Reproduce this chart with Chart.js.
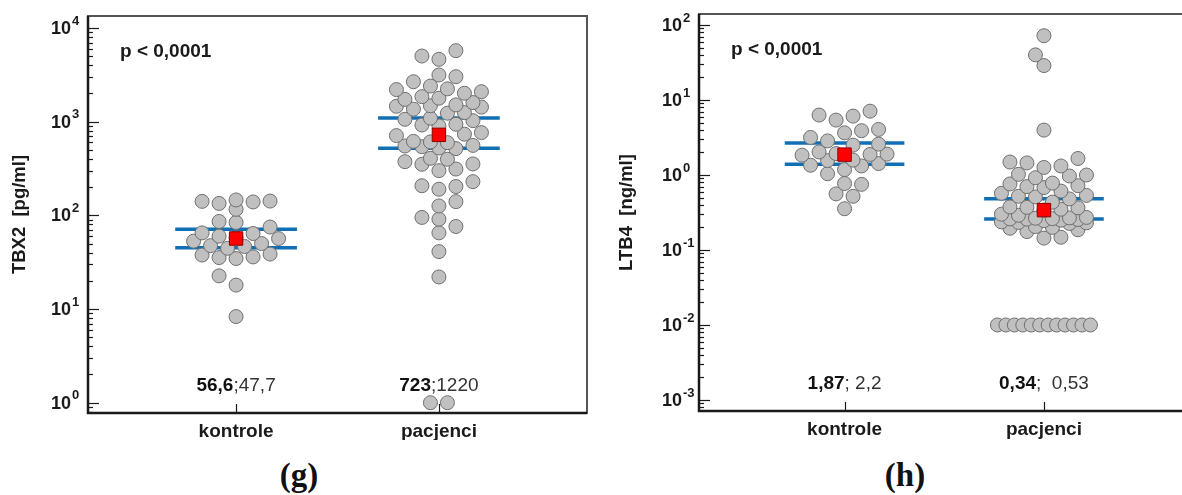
<!DOCTYPE html>
<html>
<head>
<meta charset="utf-8">
<script src="https://cdn.jsdelivr.net/npm/chart.js@4.4.0/dist/chart.umd.min.js"></script>
<style>
  html, body { margin: 0; padding: 0; background: #fff; overflow: hidden; width: 1182px; height: 495px; }
  .panel { position: absolute; top: 0; }
  .tag { position: absolute; top: 457px; width: 100px; text-align: center; line-height: 33px;
         font: bold 33px "Liberation Serif", "DejaVu Serif", serif; color: #111; }
</style>
</head>
<body>
<canvas id="chartG" class="panel" width="600" height="440" style="left:0"></canvas>
<canvas id="chartH" class="panel" width="600" height="440" style="left:600px"></canvas>
<div class="tag" style="left:249px">(g)</div>
<div class="tag" style="left:855px">(h)</div>
<script>
const categories = ['kontrole', 'pacjenci'];

// (g) TBX2 [pg/ml]
const tbx2Kontrole = [116, 134, 139, 141, 142, 146, 84, 86, 75, 60, 64, 65, 56.5, 57.5, 53, 46.5, 47.5, 50, 44.5,
  34.6, 35.4, 36, 37.7, 38.6, 22.6, 18, 8.3];
const tbx2Pacjenci = [5730, 5020, 4630, 3150, 3020, 2670, 2400, 2200, 2240, 2090, 2010, 1850, 1780, 1730,
  1600, 1510, 1460, 1480, 1430, 1360, 1250, 1230, 1090, 1060, 1025, 938, 922, 900, 764, 735, 710, 608, 616,
  597, 550, 558, 541, 516, 524, 406, 397, 374, 354, 351, 312, 300, 229, 207, 203, 190, 140, 126, 95, 91,
  76, 65, 41, 22, 1, 1];
const tbx2Center = [56.6, 723];
const tbx2Second = [47.7, 1220];
const tbx2Upper = [71, 1095];
const tbx2Lower = [45, 520];
const tbx2Exps = [0, 1, 2, 3, 4];

// (h) LTB4 [ng/ml]
const ltb4Kontrole = [7.1, 6.3, 6.1, 5.4, 4.05, 3.9, 3.65, 3.17, 2.85, 2.58, 2.5, 2.03, 1.93, 1.88, 1.9,
  1.84, 1.56, 1.58, 1.42, 1.35, 1.32, 1.18, 1.04, 0.77, 0.75, 0.56, 0.52, 0.355];
const ltb4Pacjenci = [72, 40, 28.8, 3.97, 1.66, 1.49, 1.45, 1.32, 1.26, 1.0, 1.02, 0.97, 0.92, 0.76, 0.78,
  0.72, 0.68, 0.7, 0.61, 0.57, 0.535, 0.52, 0.51, 0.48, 0.435, 0.365, 0.37, 0.375, 0.35, 0.34, 0.30, 0.29,
  0.268, 0.272, 0.255, 0.258, 0.26, 0.262, 0.265, 0.246, 0.25, 0.233, 0.237, 0.226, 0.23, 0.205, 0.2, 0.195,
  0.186, 0.176, 0.148, 0.144,
  0.01, 0.01, 0.01, 0.01, 0.01, 0.01, 0.01, 0.01, 0.01, 0.01, 0.01, 0.01];
const ltb4Center = [1.87, 0.34];
const ltb4Second = [2.2, 0.53];
const ltb4Upper = [2.68, 0.483];
const ltb4Lower = [1.39, 0.26];
const ltb4Exps = [-3, -2, -1, 0, 1, 2];

const FONT = '"Liberation Sans", Arial, sans-serif';
const comma = v => String(v).replace('.', ',');

// simple beeswarm, laid out in pixel space through the chart's own scales;
// identical values are set side by side in one centred row
function swarm(chart) {
  const xs = chart.scales.x, ys = chart.scales.y;
  const step = 8.5, minDist = 13, maxK = 5, maxHalf = 46.5;
  chart.data.datasets.forEach(ds => {
    if (!ds.raw) return;
    const cx = xs.getPixelForValue(ds.cat);
    const pts = ds.raw.map(v => ({ v, py: ys.getPixelForValue(v) })).sort((a, b) => b.py - a.py);
    const placed = [];
    let i = 0;
    while (i < pts.length) {
      let j = i;
      while (j + 1 < pts.length && pts[j + 1].v === pts[i].v) j++;
      const n = j - i + 1;
      if (n > 1) {
        const gap = Math.min(2 * step, 2 * maxHalf / (n - 1));
        for (let k = 0; k < n; k++) {
          pts[i + k].off = (k - (n - 1) / 2) * gap;
          placed.push(pts[i + k]);
        }
      } else {
        const p = pts[i];
        const s = placed.length % 2 ? 1 : -1;
        const cands = [0];
        for (let k = 1; k <= maxK; k++) cands.push(s * k * step, -s * k * step);
        let best = 0, bestD = -1;
        for (const off of cands) {
          let d = Infinity;
          for (const q of placed) d = Math.min(d, Math.hypot(q.off - off, q.py - p.py));
          if (d >= minDist) { best = off; break; }
          if (d > bestD) { bestD = d; best = off; }
        }
        p.off = best;
        placed.push(p);
      }
      i = j + 1;
    }
    ds.data = pts.map(p => ({ x: xs.getValueForPixel(cx + p.off), y: p.v }));
  });
  chart.update('none');
}

const framePlugin = {
  id: 'frame',
  afterDraw(chart, args, o) {
    const { ctx, chartArea: a, scales: { x, y } } = chart;
    ctx.save();
    ctx.strokeStyle = '#555';
    ctx.lineWidth = 2;
    ctx.strokeRect(a.left, a.top, a.right - a.left, a.bottom - a.top);
    ctx.strokeStyle = '#1a1a1a';
    ctx.lineWidth = 2.5;
    ctx.beginPath();
    ctx.moveTo(a.left, a.top); ctx.lineTo(a.left, a.bottom); ctx.lineTo(a.right, a.bottom);
    ctx.stroke();

    // log ticks, drawn inside the frame
    ctx.lineWidth = 1.2;
    const lo = Math.floor(Math.log10(y.min)), hi = Math.ceil(Math.log10(y.max));
    for (let e = lo; e <= hi; e++) {
      for (let m = 1; m <= 9; m++) {
        const v = m * Math.pow(10, e);
        if (v < y.min || v > y.max) continue;
        const py = Math.round(y.getPixelForValue(v)) + 0.5;
        ctx.beginPath();
        ctx.moveTo(a.left, py);
        ctx.lineTo(a.left + (m === 1 ? 11 : 5), py);
        ctx.stroke();
      }
    }
    // category ticks
    [1, 2].forEach(c => {
      const px = Math.round(x.getPixelForValue(c)) + 0.5;
      ctx.beginPath(); ctx.moveTo(px, a.bottom); ctx.lineTo(px, a.bottom - 9); ctx.stroke();
    });

    // tick labels 10^n
    ctx.fillStyle = '#1a1a1a';
    o.exps.forEach(e => {
      const py = y.getPixelForValue(Math.pow(10, e));
      const bx = a.left - 17;
      ctx.font = 'bold 18px ' + FONT;
      ctx.textAlign = 'right';
      ctx.textBaseline = 'middle';
      ctx.fillText('10', bx, py + 1);
      ctx.font = 'bold 13px ' + FONT;
      ctx.textAlign = 'left';
      ctx.fillText(String(e), bx + 1, py - 7);
    });

    // p value
    ctx.font = 'bold 19px ' + FONT;
    ctx.textAlign = 'left';
    ctx.textBaseline = 'alphabetic';
    ctx.fillText(o.pText, a.left + 32, a.top + 41);

    // center / second value under each group
    o.center.forEach((c, i) => {
      const b = comma(c), r = o.sep[i] + comma(o.second[i]);
      ctx.font = 'bold 19px ' + FONT;
      const wb = ctx.measureText(b).width;
      ctx.font = '19px ' + FONT;
      const wr = ctx.measureText(r).width;
      const sx = x.getPixelForValue(i + 1) - (wb + wr) / 2;
      ctx.font = 'bold 19px ' + FONT;
      ctx.fillStyle = '#111';
      ctx.fillText(b, sx, a.bottom - 22);
      ctx.font = '19px ' + FONT;
      ctx.fillStyle = '#333';
      ctx.fillText(r, sx + wb, a.bottom - 22);
    });
    ctx.restore();
  }
};

function makePanel(id, p) {
  const dotStyle = {
    pointRadius: 7, pointBackgroundColor: '#c0c0c0', pointBorderColor: '#6f6f6f', pointBorderWidth: 1
  };
  const datasets = [
    {
      data: p.center.map((v, i) => ({ x: i + 1, y: v })),
      pointStyle: 'rect', pointRadius: 9.5, pointBackgroundColor: '#ff0000',
      pointBorderColor: '#8a0000', pointBorderWidth: 1, order: 0
    },
    { raw: p.kontrole, cat: 1, data: p.kontrole.map(v => ({ x: 1, y: v })), ...dotStyle, order: 1 },
    { raw: p.pacjenci, cat: 2, data: p.pacjenci.map(v => ({ x: 2, y: v })), ...dotStyle, order: 1 }
  ];
  [p.upper, p.lower].forEach(arr => arr.forEach((v, i) => {
    datasets.push({
      data: [{ x: i + 0.7, y: v }, { x: i + 1.3, y: v }],
      showLine: true, borderColor: '#1170b4', borderWidth: 3.5, pointRadius: 0,
      borderCapStyle: 'butt', order: 2
    });
  }));

  const chart = new Chart(document.getElementById(id), {
    type: 'scatter',
    data: { datasets },
    options: {
      responsive: false,
      animation: false,
      events: [],
      layout: { padding: { left: 0, top: p.top, right: p.right, bottom: 0 } },
      plugins: {
        legend: { display: false },
        tooltip: { enabled: false },
        frame: { exps: p.exps, pText: 'p < 0,0001', center: p.center, second: p.second, sep: p.sep }
      },
      scales: {
        x: {
          type: 'linear', min: 0.27, max: 2.73,
          grid: { display: false, drawTicks: false }, border: { display: false },
          afterBuildTicks: s => { s.ticks = [{ value: 1 }, { value: 2 }]; },
          afterFit: s => { s.height = 440 - p.bottom; },
          ticks: {
            autoSkip: false, maxRotation: 0, padding: 7, color: '#1a1a1a',
            font: { family: FONT, size: 19, weight: 'bold' },
            callback: v => categories[v - 1]
          }
        },
        y: {
          type: 'logarithmic', min: p.ymin, max: p.ymax,
          grid: { display: false, drawTicks: false }, border: { display: false },
          ticks: { display: false },
          afterFit: s => { s.width = p.left; },
          title: {
            display: true, text: p.title, color: '#1a1a1a',
            font: { family: FONT, size: 18.5, weight: 'bold' },
            padding: { top: p.titlePad, bottom: 0 }
          }
        }
      }
    },
    plugins: [framePlugin]
  });
  swarm(chart);
}

makePanel('chartG', {
  kontrole: tbx2Kontrole, pacjenci: tbx2Pacjenci, center: tbx2Center, second: tbx2Second,
  upper: tbx2Upper, lower: tbx2Lower, exps: tbx2Exps, sep: [';', ';'],
  ymin: Math.pow(10, -0.11), ymax: Math.pow(10, 4.128),
  title: 'TBX2  [pg/ml]', titlePad: 9,
  left: 88, top: 16, right: 13, bottom: 413
});

makePanel('chartH', {
  kontrole: ltb4Kontrole, pacjenci: ltb4Pacjenci, center: ltb4Center, second: ltb4Second,
  upper: ltb4Upper, lower: ltb4Lower, exps: ltb4Exps, sep: ['; ', ';  '],
  ymin: Math.pow(10, -3.147), ymax: Math.pow(10, 2.147),
  title: 'LTB4  [ng/ml]', titlePad: 16,
  left: 99, top: 14, right: 5, bottom: 411
});
</script>
</body>
</html>
